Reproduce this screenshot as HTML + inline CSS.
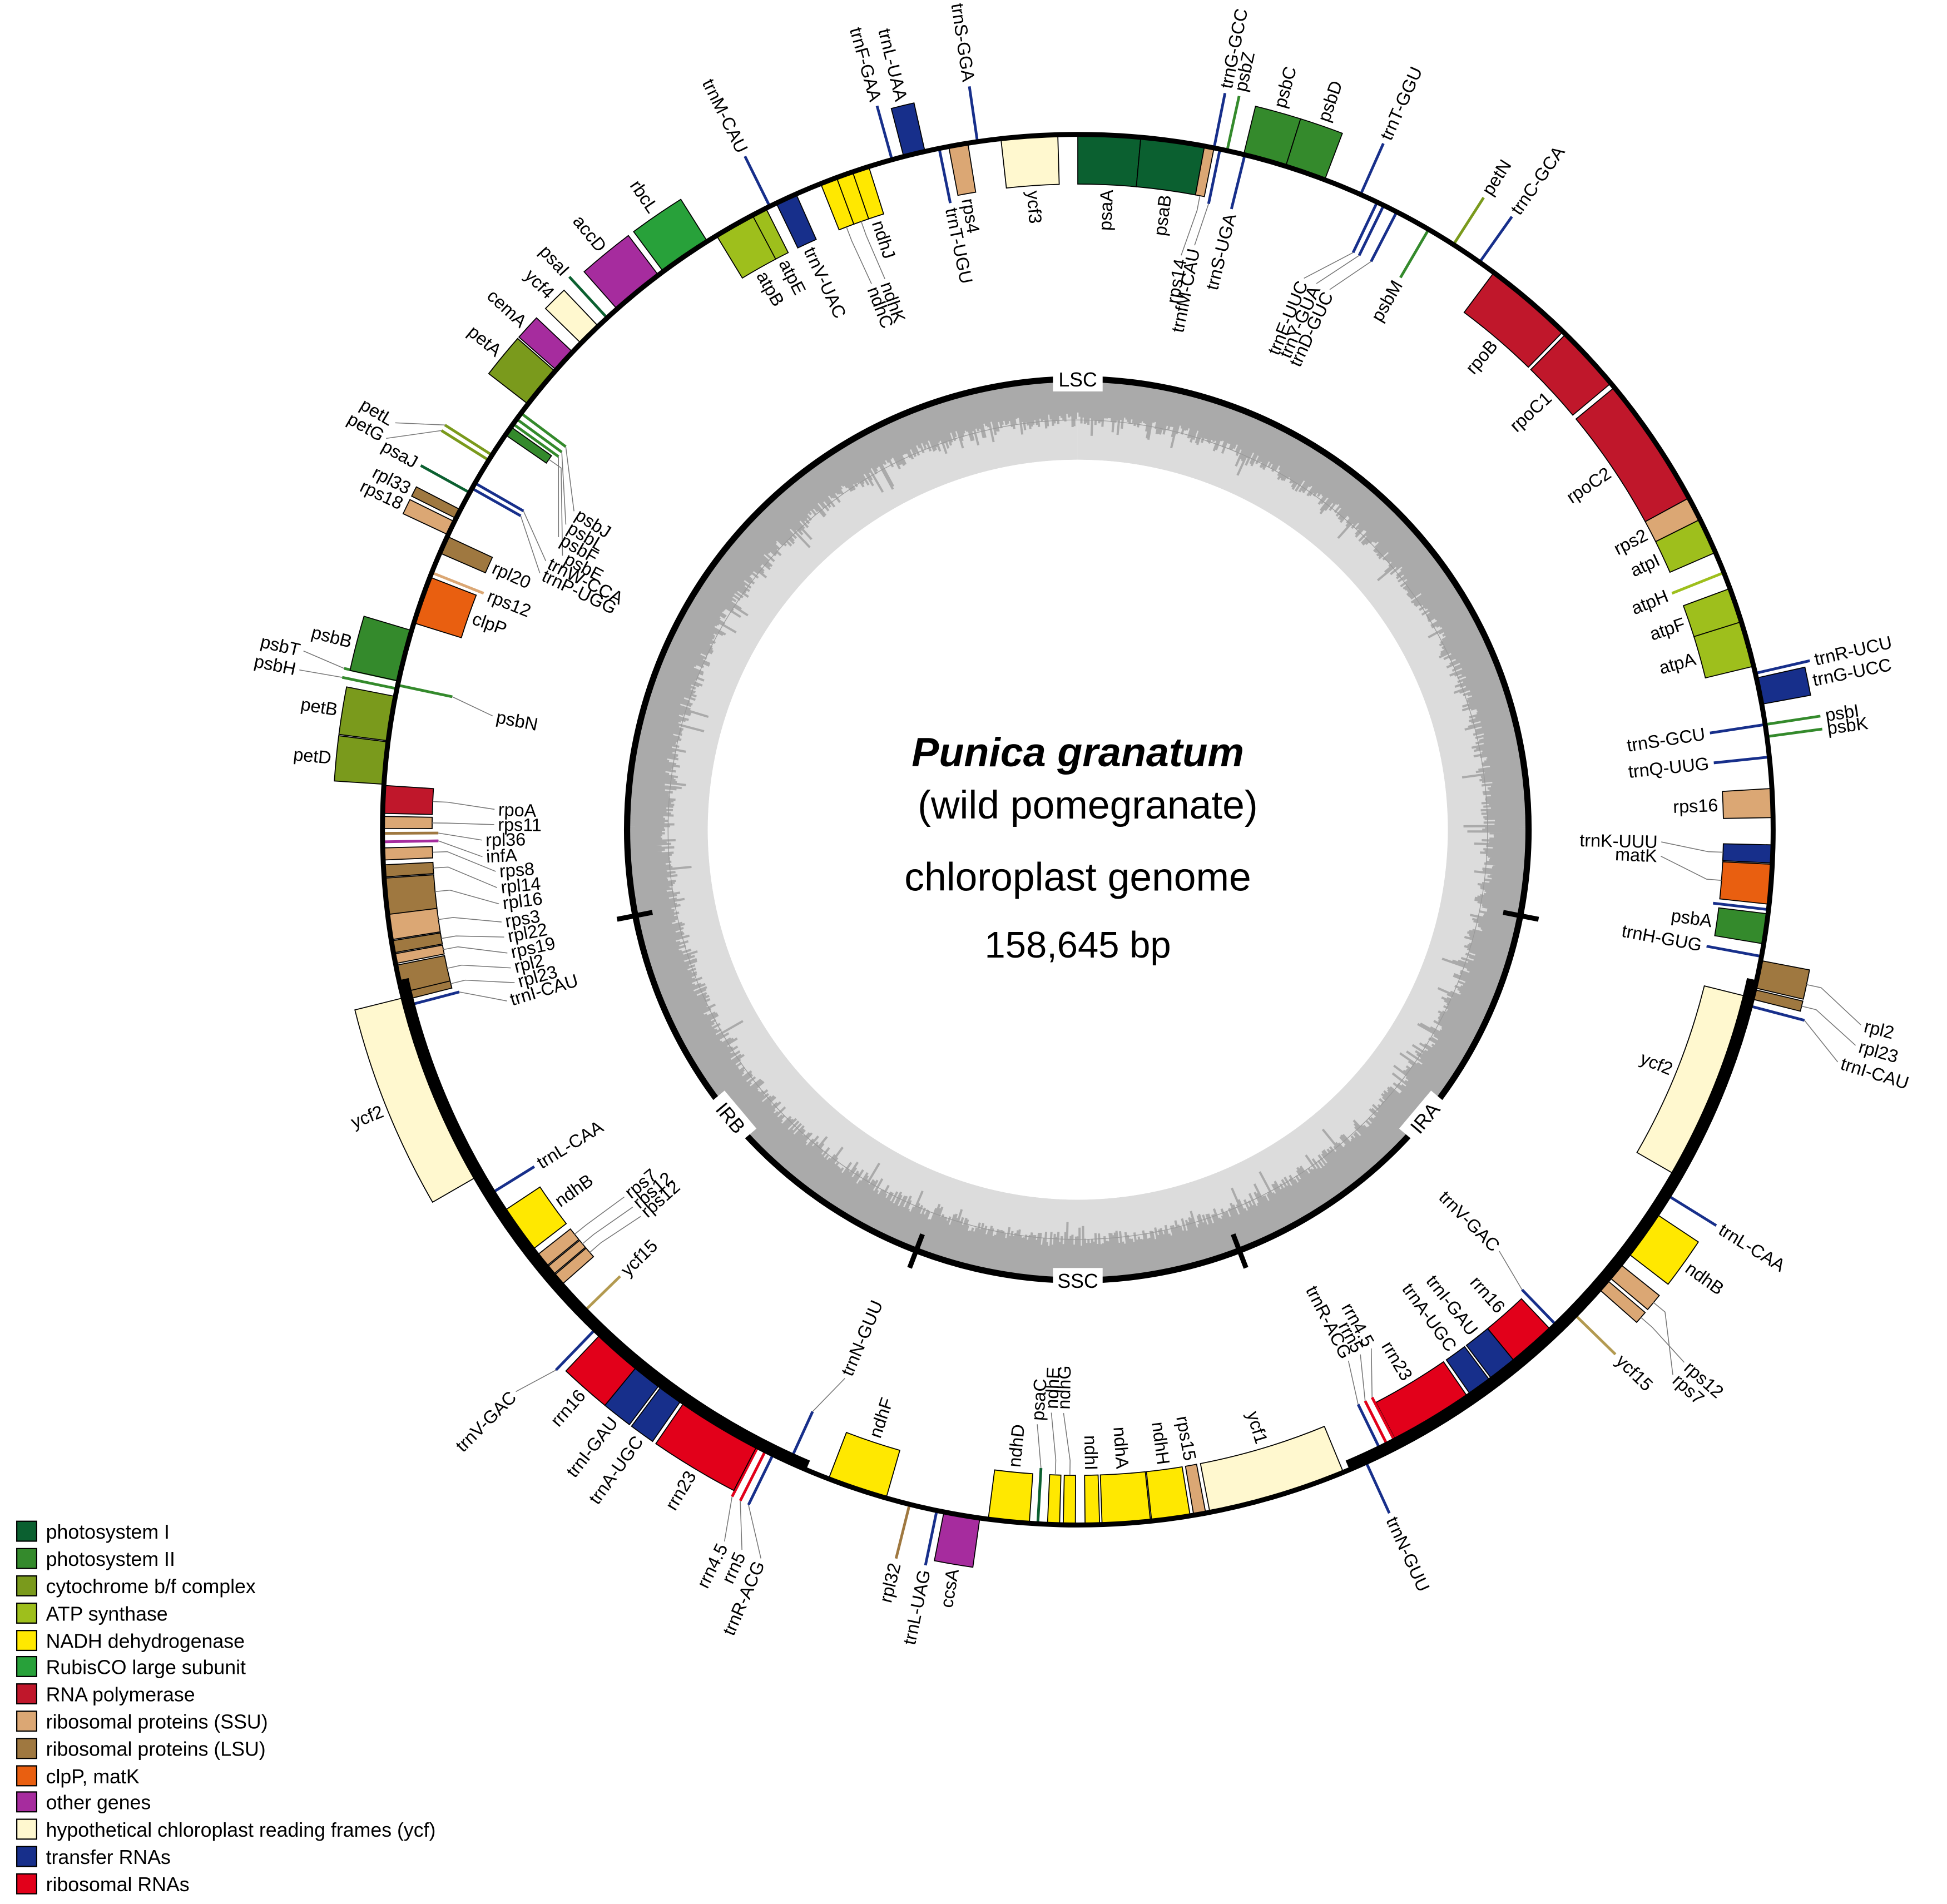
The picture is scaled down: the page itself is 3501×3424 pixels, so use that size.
<!DOCTYPE html>
<html><head><meta charset="utf-8"><style>
html,body{margin:0;padding:0;background:#fff}
svg{display:block}
text{font-family:"Liberation Sans",Arial,sans-serif}
</style></head><body>
<svg id="s" width="3501" height="3424" viewBox="0 0 1568 1533" xmlns="http://www.w3.org/2000/svg">
<rect width="1568" height="1533" fill="#fff"/>
<g id="gc"></g>
<circle cx="868" cy="668" r="363" fill="none" stroke="#000" stroke-width="5"/>
<g id="ring"></g>
<g id="genes"></g>
<circle cx="868" cy="668" r="560" fill="none" stroke="#000" stroke-width="4"/>
<g id="ir"></g>
<text x="868" y="617" font-size="33" font-weight="bold" font-style="italic" text-anchor="middle">Punica granatum</text>
<text x="876" y="659" font-size="32" text-anchor="middle">(wild pomegranate)</text>
<text x="868" y="717" font-size="32" text-anchor="middle">chloroplast genome</text>
<text x="868" y="771" font-size="30" text-anchor="middle">158,645 bp</text>
<g id="legend" font-size="16">
<rect x="13.5" y="1225" width="16" height="16" fill="#0b6030" stroke="#000"/><text x="37" y="1239">photosystem I</text>
<rect x="13.5" y="1247" width="16" height="16" fill="#348a2c" stroke="#000"/><text x="37" y="1261">photosystem II</text>
<rect x="13.5" y="1269" width="16" height="16" fill="#7a9a1c" stroke="#000"/><text x="37" y="1283">cytochrome b/f complex</text>
<rect x="13.5" y="1291" width="16" height="16" fill="#9ebf1c" stroke="#000"/><text x="37" y="1305">ATP synthase</text>
<rect x="13.5" y="1313" width="16" height="16" fill="#ffe800" stroke="#000"/><text x="37" y="1327">NADH dehydrogenase</text>
<rect x="13.5" y="1334" width="16" height="16" fill="#28a13a" stroke="#000"/><text x="37" y="1348">RubisCO large subunit</text>
<rect x="13.5" y="1356" width="16" height="16" fill="#c0172b" stroke="#000"/><text x="37" y="1370">RNA polymerase</text>
<rect x="13.5" y="1378" width="16" height="16" fill="#dba774" stroke="#000"/><text x="37" y="1392">ribosomal proteins (SSU)</text>
<rect x="13.5" y="1400" width="16" height="16" fill="#9f7840" stroke="#000"/><text x="37" y="1414">ribosomal proteins (LSU)</text>
<rect x="13.5" y="1422" width="16" height="16" fill="#e95f10" stroke="#000"/><text x="37" y="1436">clpP, matK</text>
<rect x="13.5" y="1443" width="16" height="16" fill="#a62c9e" stroke="#000"/><text x="37" y="1457">other genes</text>
<rect x="13.5" y="1465" width="16" height="16" fill="#fff8cf" stroke="#000"/><text x="37" y="1479">hypothetical chloroplast reading frames (ycf)</text>
<rect x="13.5" y="1487" width="16" height="16" fill="#172f8b" stroke="#000"/><text x="37" y="1501">transfer RNAs</text>
<rect x="13.5" y="1509" width="16" height="16" fill="#e2001a" stroke="#000"/><text x="37" y="1523">ribosomal RNAs</text>
</g>
</svg>
<script>
var CX=868,CY=668,NS="http://www.w3.org/2000/svg";
function P(r,a){a=a*Math.PI/180;return [CX+r*Math.sin(a),CY-r*Math.cos(a)];}
function el(t,at,par,txt){var e=document.createElementNS(NS,t);for(var k in at)e.setAttribute(k,at[k]);if(txt)e.textContent=txt;document.getElementById(par).appendChild(e);return e;}
function arc(r1,r2,a1,a2){var p1=P(r2,a1),p2=P(r2,a2),p3=P(r1,a2),p4=P(r1,a1);var l=(a2-a1)>180?1:0;
return "M"+p1+" A"+r2+" "+r2+" 0 "+l+" 1 "+p2+" L"+p3+" A"+r1+" "+r1+" 0 "+l+" 0 "+p4+"Z";}
el("path",{d:arc(298,361,0,359.99),fill:"#dcdcdc"},"gc");
var seed=7;function rnd(){seed=(seed*16807)%2147483647;return seed/2147483647;}
var d="";for(var i=0;i<1440;i++){var a=i/4,r=336-rnd()*12-(rnd()<0.1?rnd()*15:0);var p=P(361,a),q=P(r,a);d+="M"+p[0].toFixed(1)+" "+p[1].toFixed(1)+"L"+q[0].toFixed(1)+" "+q[1].toFixed(1);}
el("path",{d:d,stroke:"#aaaaaa","stroke-width":"1.8",fill:"none"},"gc");
el("circle",{cx:CX,cy:CY,r:330,fill:"none",stroke:"#9a9a9a","stroke-width":"0.6"},"gc");
el("circle",{cx:CX,cy:CY,r:298,fill:"#fff"},"gc");
[101,-101,159,-159].forEach(function(a){var p=P(349,a),q=P(378,a);el("line",{x1:p[0],y1:p[1],x2:q[0],y2:q[1],stroke:"#000","stroke-width":"4"},"ring");});
[["LSC",0,0],["SSC",180,0],["IRA",129.7,-50],["IRB",-129.7,50]].forEach(function(L){var p=P(363,L[1]);
var g=el("g",{transform:"translate("+p[0]+","+p[1]+") rotate("+L[2]+")"},"ring");
var r=document.createElementNS(NS,"rect");r.setAttribute("x",-20);r.setAttribute("y",-10);r.setAttribute("width",40);r.setAttribute("height",20);r.setAttribute("fill","#fff");g.appendChild(r);
var t=document.createElementNS(NS,"text");t.setAttribute("text-anchor","middle");t.setAttribute("y",6);t.setAttribute("font-size","16");t.textContent=L[0];g.appendChild(t);});
[[102.5,157],[-157,-102.5]].forEach(function(A){var p1=P(556,A[0]),p2=P(556,A[1]);el("path",{d:"M"+p1+" A556 556 0 0 1 "+p2,fill:"none",stroke:"#000","stroke-width":"8"},"ir");});
var C={I:"#0b6030",II:"#348a2c",cyt:"#7a9a1c",atp:"#9ebf1c",ndh:"#ffe800",rbc:"#28a13a",rpo:"#c0172b",ssu:"#dba774",lsu:"#9f7840",clp:"#e95f10",oth:"#a62c9e",ycf:"#fff8cf",t:"#172f8b",r:"#e2001a",y15:"#b39a50"};
var G=[
['psaA',2.6,5.2,'i','I'],['psaB',7.85,5.3,'i','I'],['rps14',10.9,0.8,'i','ssu',10.2],['trnfM-CAU',11.8,0.3,'i','t',11.3],['trnS-UGA',13.9,0.3,'i','t'],
['ycf3',-4,4.7,'i','ycf'],['rps4',-9.9,1.6,'i','ssu'],['trnT-UGU',-11.5,0.3,'i','t'],
['ndhJ',-18.2,1.4,'i','ndh'],['ndhK',-19.6,1.4,'i','ndh',-19.3],['ndhC',-21.0,1.4,'i','ndh',-20.7],
['trnV-UAC',-24.8,1.8,'i','t'],['atpE',-27.3,1.3,'i','atp'],['atpB',-29.6,3.4,'i','atp'],
['trnM-CAU',-26.3,0.3,'o','t'],['trnL-UAA',-13.6,1.8,'o','t'],['trnF-GAA',-15.5,0.3,'o','t'],['trnS-GGA',-8.3,0.3,'o','t'],
['trnG-GCC',11.3,0.3,'o','t'],['psbZ',12.4,0.6,'o','II'],['psbC',15.6,3.6,'o','II'],['psbD',19.1,3.4,'o','II'],['trnT-GGU',24,0.3,'o','t'],
['trnE-UUC',25.5,0.3,'i','t',22.3],['trnY-GUA',26.1,0.3,'i','t',23.6],['trnD-GUC',27.3,0.3,'i','t',25],['psbM',30.3,0.3,'i','II'],
['petN',32.7,0.3,'o','cyt'],['trnC-GCA',35.3,0.3,'o','t'],
['rpoB',40.5,7.5,'i','rpo'],['rpoC1',47.3,5.5,'i','rpo'],['rpoC2',56,11,'i','rpo'],['rps2',62.5,2,'i','ssu'],['atpI',65,3,'i','atp'],['atpH',68.3,0.6,'i','atp'],['atpF',71.2,3,'i','atp'],['atpA',74.5,3.8,'i','atp'],
['trnR-UCU',77,0.3,'o','t'],['trnG-UCC',78.5,2.2,'o','t'],
['trnS-GCU',81.3,0.3,'i','t'],['psbI',81.3,0.5,'o','II'],['psbK',82.3,0.6,'o','II'],['trnQ-UUG',84,0.3,'i','t'],
['rps16',87.8,2.4,'i','ssu'],['trnK-UUU',92,1.5,'i','t',91.2],['matK',94.5,3.3,'i','clp',92.6],['',96.6,0.5,'i','t'],['psbA',98.2,2.5,'i','II'],['trnH-GUG',100.5,0.3,'i','t'],
['rpl2',102,2.3,'o','lsu',104],['rpl23',103.7,0.8,'o','lsu',105.5],['trnI-CAU',104.7,0.3,'o','t',107],
['ycf2',112,16,'i','ycf'],['trnL-CAA',121.8,0.3,'o','t'],['ndhB',125.6,4,'o','ndh'],['rps7',129.4,1.4,'o','ssu',132.5],['rps12',130.9,1,'o','ssu',131.3],['ycf15',134.3,0.3,'o','y15'],
['trnV-GAC',136,0.3,'i','t',135],['rrn16',138.6,4,'i','r'],['trnI-GAU',141.8,2.4,'i','t'],['trnA-UGC',144.2,2,'i','t'],['rrn23',149,7,'i','r'],['rrn4.5',152.6,0.4,'i','r',150.5],['rrn5',153.3,0.4,'i','r',151.7],['trnR-ACG',154,0.3,'i','t',153],['trnN-GUU',155.5,0.3,'o','t'],
['ycf1',163.3,11.5,'i','ycf'],['rps15',169.9,1,'i','ssu'],['ndhH',172.3,3.2,'i','ndh'],['ndhA',176,4,'i','ndh'],['ndhI',178.8,1.2,'i','ndh'],
['ndhG',-179.3,1,'i','ndh',-178.6],['ndhE',-178,1,'i','ndh',-177.4],['psaC',-176.7,0.5,'i','I',-176.1],['ndhD',-174.3,3.4,'i','ndh'],
['ccsA',-170.4,3,'o','oth'],['trnL-UAG',-168.3,0.3,'o','t'],['rpl32',-166,0.4,'o','lsu'],['ndhF',-161.5,5,'i','ndh'],
['trnN-GUU',-155.5,0.3,'i','t',-157],['trnR-ACG',-154,0.3,'o','t',-156.5],['rrn5',-153.3,0.4,'o','r',-155],['rrn4.5',-152.6,0.4,'o','r',-153.6],['rrn23',-149,7,'o','r'],['trnA-UGC',-144.2,2,'o','t'],['trnI-GAU',-141.8,2.4,'o','t'],['rrn16',-138.6,4,'o','r'],['trnV-GAC',-136,0.3,'o','t',-135],
['ycf15',-134.3,0.3,'i','y15'],['rps12',-130.9,1,'i','ssu',-131.5],['rps12',-129.9,0.8,'i','ssu',-130.3],['rps7',-128.8,1.2,'i','ssu',-129],
['ndhB',-125.6,4,'i','ndh'],['trnL-CAA',-121.8,0.3,'i','t'],['ycf2',-112,16,'o','ycf'],
['trnI-CAU',-104.7,0.3,'i','t',-106.7],['rpl23',-103.8,0.8,'i','lsu',-105.2],['rpl2',-102.4,2.3,'i','lsu',-103.7],['rps19',-100.7,0.8,'i','ssu',-102.2],['rpl22',-99.7,1,'i','lsu',-100.6],['rps3',-98,2.2,'i','ssu',-99.1],['rpl16',-95.5,3,'i','lsu',-97.3],['rpl14',-93.4,1,'i','lsu',-95.7],['rps8',-92,1,'i','ssu',-94.1],['infA',-91,0.4,'i','oth',-92.6],['rpl36',-90.3,0.5,'i','lsu',-91],['rps11',-89.4,1,'i','ssu',-89.5],['rpoA',-87.5,2.3,'i','rpo',-88],
['petD',-84.5,3.5,'o','cyt'],['petB',-80.8,3.7,'o','cyt'],['psbH',-78.3,0.5,'o','II',-78.4],['psbT',-77.6,0.5,'o','II',-77],['psbN',-78,0.5,'i','II',-79],['psbB',-75.5,4.3,'o','II'],
['clpP',-70.7,4,'i','clp'],['rps12',-68.3,0.5,'i','ssu'],['rpl20',-65.8,1.5,'i','lsu'],['rps18',-64.3,1.2,'o','ssu'],['rpl33',-63,0.8,'o','lsu'],['psaJ',-61,0.4,'o','I'],
['trnP-UGG',-60.6,0.3,'i','t',-64.5],['trnW-CCA',-60.1,0.3,'i','t',-63.2],
['petG',-57.9,0.4,'o','cyt',-60.5],['petL',-57.4,0.4,'o','cyt',-59.2],
['psbE',-55,0.8,'i','II',-62],['psbF',-54.3,0.4,'i','II',-60.6],['psbL',-53.8,0.4,'i','II',-59.2],['psbJ',-53.2,0.5,'i','II',-57.7],
['petA',-50.5,3.5,'o','cyt'],['cemA',-47.6,2,'o','oth'],['ycf4',-44.6,2,'o','ycf'],['psaI',-42.6,0.4,'o','I'],['accD',-39.3,4.4,'o','oth'],['rbcL',-34.4,4.4,'o','rbc']
];
G.forEach(function(g){
  var n=g[0],a=g[1],w=g[2],out=g[3]=='o',col=C[g[4]],la=g.length>5?g[5]:null;
  var thin=w<0.75, s=out?1:-1, edge;
  if(thin){var L=45;var p=P(560,a),q=P(560+s*L,a);
    el("line",{x1:p[0],y1:p[1],x2:q[0],y2:q[1],stroke:col,"stroke-width":"2.2"},"genes");edge=560+s*L;}
  else{el("path",{d:arc(out?560:520,out?600:560,a-w/2,a+w/2),fill:col,stroke:"#000","stroke-width":"0.8"},"genes");edge=out?600:520;}
  if(!n)return;
  var ta=a,tr=edge+s*4;
  if(la!==null){var r1=edge+s*(thin?0:12),r2=edge+s*(thin?35:50);
    var p1=P(edge,a),p2=P(r1,a),p3=P(r2,la);
    el("polyline",{points:p1+" "+p2+" "+p3,fill:"none",stroke:"#777","stroke-width":"0.7"},"genes");ta=la;tr=r2+s*3;}
  var nt=((ta%360)+360)%360;var right=nt>0&&nt<180;
  var rot=right?nt-90:nt-270;
  var anchor=(out==right)?"start":"end";
  var p=P(tr,ta);
  el("text",{x:0,y:0,"font-size":"14.5","text-anchor":anchor,"dominant-baseline":"central",transform:"translate("+p[0].toFixed(1)+","+p[1].toFixed(1)+") rotate("+rot.toFixed(1)+")"},"genes",n);
});
</script>
</body></html>
